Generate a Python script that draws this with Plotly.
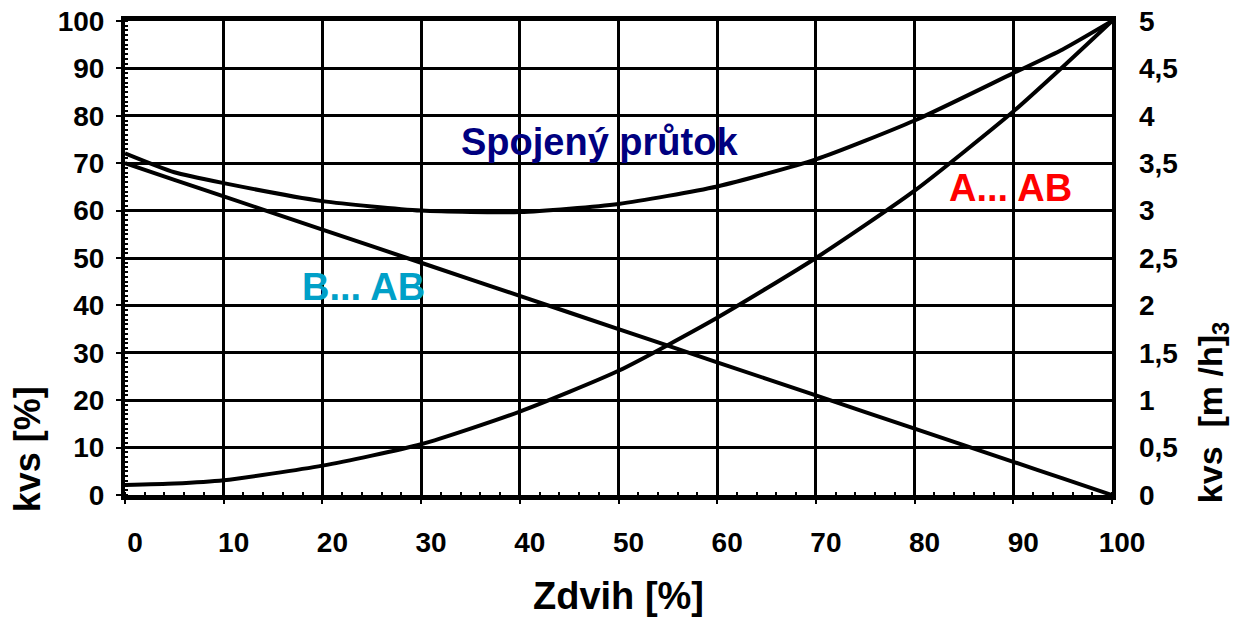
import plotly.graph_objects as go

# Data
zdvih = [0, 5, 10, 20, 30, 40, 50, 60, 70, 80, 90, 95, 100]
a_ab = [2.1, 2.4, 3.1, 6.2, 10.7, 17.6, 26.2, 37.4, 50.0, 64.2, 80.9, 90.3, 100.0]
b_ab = [70.0, 66.5, 63.0, 56.0, 49.0, 42.0, 35.0, 28.0, 21.0, 14.0, 7.0, 3.5, 0.0]
spojeny = [72.1, 68.1, 65.8, 62.0, 60.0, 59.7, 61.4, 65.1, 70.8, 79.0, 89.0, 94.0, 100.0]

x_ticks = [0, 10, 20, 30, 40, 50, 60, 70, 80, 90, 100]
y_ticks = [0, 10, 20, 30, 40, 50, 60, 70, 80, 90, 100]
y2_ticks = [0, 0.5, 1, 1.5, 2, 2.5, 3, 3.5, 4, 4.5, 5]
y2_labels = ["0", "0,5", "1", "1,5", "2", "2,5", "3", "3,5", "4", "4,5", "5"]
kvs_max_m3h = 5.0

FONT = "Liberation Sans, Arial, Helvetica, sans-serif"

fig = go.Figure()
for series in (a_ab, b_ab, spojeny):
    fig.add_trace(go.Scatter(
        x=zdvih, y=series, mode="lines",
        line=dict(color="black", width=4, shape="spline", smoothing=0.6),
        hoverinfo="skip", showlegend=False,
    ))
# invisible trace to carry the right axis (m3/h)
fig.add_trace(go.Scatter(
    x=zdvih, y=[v / 100 * kvs_max_m3h for v in spojeny], mode="lines",
    line=dict(color="rgba(0,0,0,0)", width=0), yaxis="y2",
    hoverinfo="skip", showlegend=False,
))

fig.update_layout(
    width=1234, height=617,
    margin=dict(l=125, r=122, t=21, b=122),
    paper_bgcolor="white", plot_bgcolor="white",
    font=dict(family=FONT, size=28, color="black"),
    xaxis=dict(
        range=[0, 100], tickvals=x_ticks, ticktext=[str(v) for v in x_ticks],
        showgrid=True, gridcolor="black", gridwidth=2.5,
        showline=True, linecolor="black", linewidth=5, mirror=True,
        ticks="outside", ticklen=4, tickwidth=2, tickcolor="black",
        minor=dict(dtick=2, ticks="inside", ticklen=3, tickwidth=2, tickcolor="black", showgrid=False),
        tickfont=dict(family=FONT, size=28, color="black", weight="bold"),
        ticklabelstandoff=14, ticklabelshift=10,
        title=dict(text="<b>Zdvih [%]</b>", font=dict(family=FONT, size=38, color="black"), standoff=28),
        zeroline=False, automargin=False,
    ),
    yaxis=dict(
        range=[0, 100], tickvals=y_ticks,
        showgrid=True, gridcolor="black", gridwidth=2.5,
        showline=True, linecolor="black", linewidth=4, mirror=True,
        ticks="outside", ticklen=5, tickwidth=2, tickcolor="black",
        minor=dict(dtick=1, ticks="inside", ticklen=3, tickwidth=2, tickcolor="black", showgrid=False),
        tickfont=dict(family=FONT, size=28, color="black", weight="bold"),
        ticklabelstandoff=6,
        zeroline=False, automargin=False,
    ),
    yaxis2=dict(
        range=[0, kvs_max_m3h], tickvals=y2_ticks, ticktext=y2_labels,
        overlaying="y", side="right", showgrid=False, showline=False,
        ticks="", tickfont=dict(family=FONT, size=28, color="black", weight="bold"),
        ticklabelstandoff=26, zeroline=False, automargin=False,
    ),
    annotations=[
        dict(text="<b>Spojený průtok</b>", x=48.1, y=74.5, xref="x", yref="y",
             showarrow=False, font=dict(family=FONT, size=38, color="#000080")),
        dict(text="<b>A... AB</b>", x=89.7, y=64.8, xref="x", yref="y",
             showarrow=False, font=dict(family=FONT, size=38, color="#FF0000")),
        dict(text="<b>B... AB</b>", x=24.2, y=43.9, xref="x", yref="y",
             showarrow=False, font=dict(family=FONT, size=38, color="#00A0C8")),
        dict(text="<b>kvs [%]</b>", x=-0.098, y=-0.04, xref="paper", yref="paper",
             xanchor="center", yanchor="bottom", textangle=-90, showarrow=False,
             font=dict(family=FONT, size=36, color="black")),
        dict(text="<b>kvs  [m /h]<sub>3</sub></b>", x=1.102, y=-0.021, xref="paper", yref="paper",
             xanchor="center", yanchor="bottom", textangle=-90, showarrow=False,
             font=dict(family=FONT, size=34, color="black")),
    ],
)

fig.write_html(
    "out.html",
    config={"displayModeBar": False},
    post_script="document.body.style.margin='0';document.body.style.overflow='hidden';",
)
